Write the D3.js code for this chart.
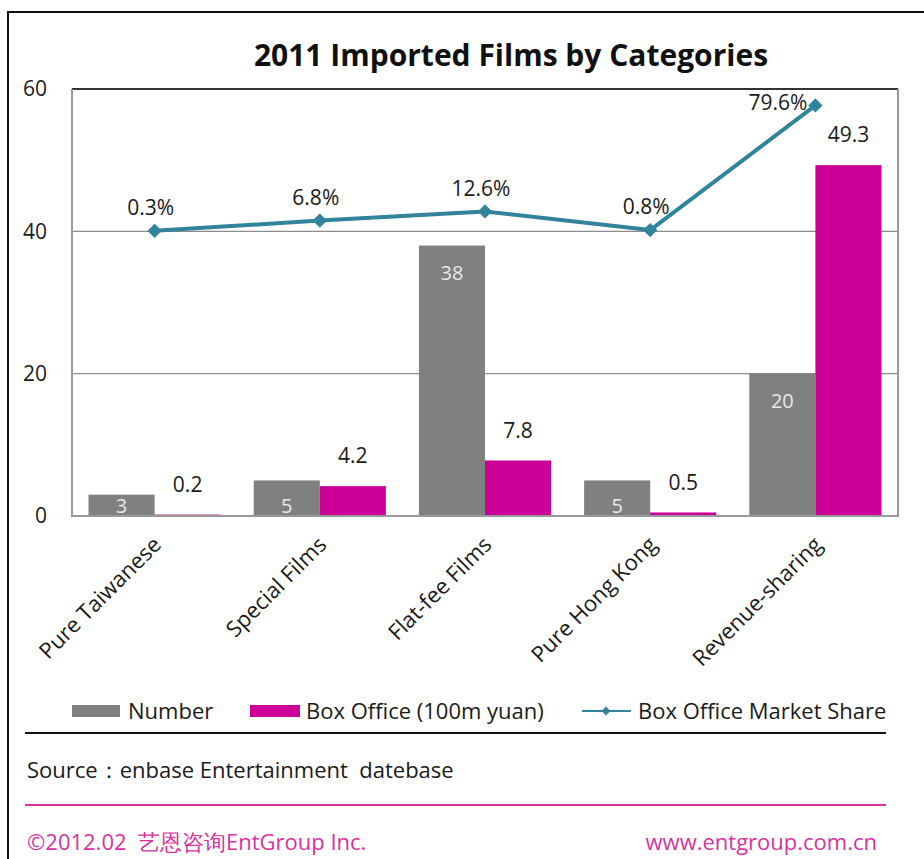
<!DOCTYPE html>
<html>
<head>
<meta charset="utf-8">
<script src="https://cdn.jsdelivr.net/npm/d3@7"></script>
<style>
  html, body { margin: 0; padding: 0; background: #fff; }
  svg { display: block; }
  text { font-family: "Open Sans", "Noto Sans", sans-serif; fill: #1a1a1a; }
</style>
</head>
<body>
<svg id="chart" width="924" height="859"></svg>
<script>
// Imported films in 2011, grouped by category
const categories = ["Pure Taiwanese", "Special Films", "Flat-fee Films", "Pure Hong Kong", "Revenue-sharing"];
const filmCount = [3, 5, 38, 5, 20];                 // number of films
const boxOffice = [0.2, 4.2, 7.8, 0.5, 49.3];        // 100m yuan
const marketShare = [0.3, 6.8, 12.6, 0.8, 79.6];     // % of imported box office
const yTicks = [0, 20, 40, 60];
const seriesNames = ["Number", "Box Office (100m yuan)", "Box Office Market Share"];

const colors = { count: "#808080", box: "#cc0099", share: "#31849b", pink: "#d6339f" };
const FS = 21;

const svg = d3.select("#chart");
const W = 924, H = 859;
const plot = { left: 72, right: 898, top: 89, bottom: 516 };

// outer frame
svg.append("rect").attr("x", 8).attr("y", 12).attr("width", W).attr("height", H)
  .attr("fill", "none").attr("stroke", "#111").attr("stroke-width", 2);

// title
svg.append("text").attr("x", 511).attr("y", 66).attr("text-anchor", "middle")
  .attr("font-size", 30).attr("font-weight", "bold").style("fill", "#111")
  .text("2011 Imported Films by Categories");

const y = d3.scaleLinear().domain([0, 60]).range([plot.bottom, plot.top]);
const y2 = d3.scaleLinear().domain([-180, 90]).range([plot.bottom, plot.top]);
const x = d3.scaleBand().domain(categories).range([plot.left, plot.right]);
const xs = d3.scaleBand().domain(["count", "box"]).range([0, x.bandwidth()]).paddingOuter(0.25);

// horizontal gridlines
svg.append("g").selectAll("line").data(yTicks.filter(t => t > 0)).join("line")
  .attr("x1", plot.left).attr("x2", plot.right)
  .attr("y1", d => y(d)).attr("y2", d => y(d))
  .attr("stroke", d => d === 60 ? "#333" : "#8c8c8c")
  .attr("stroke-width", d => d === 60 ? 2 : 1.3);

// y axis labels
const yAxis = d3.axisLeft(y).tickValues(yTicks).tickSize(0).tickPadding(0);
const gy = svg.append("g").attr("transform", `translate(${plot.left - 25},0)`).call(yAxis);
gy.select(".domain").remove();
gy.selectAll("text").attr("font-size", FS).attr("font-family", "'Open Sans', sans-serif").style("fill", "#1a1a1a");

// bars
const groups = svg.append("g").selectAll("g").data(categories).join("g")
  .attr("transform", d => `translate(${x(d)},0)`);

groups.append("rect")
  .attr("x", xs("count")).attr("width", xs.bandwidth())
  .attr("y", (d, i) => y(filmCount[i])).attr("height", (d, i) => y(0) - y(filmCount[i]))
  .attr("fill", colors.count);

groups.append("rect")
  .attr("x", xs("box")).attr("width", xs.bandwidth())
  .attr("y", (d, i) => y(boxOffice[i])).attr("height", (d, i) => y(0) - y(boxOffice[i]))
  .attr("fill", colors.box);

// count labels inside the grey bars
groups.append("text")
  .attr("x", xs("count") + xs.bandwidth() / 2)
  .attr("y", (d, i) => Math.min(y(filmCount[i]) + 27, y(0) - 10))
  .attr("dy", "0.35em").attr("text-anchor", "middle")
  .attr("font-size", FS - 1).style("fill", "#e8e8e8")
  .text((d, i) => filmCount[i]);

// box office labels above the magenta bars
groups.append("text")
  .attr("x", xs("box") + xs.bandwidth() / 2)
  .attr("y", (d, i) => y(boxOffice[i]) - 30)
  .attr("dy", "0.35em").attr("text-anchor", "middle")
  .attr("font-size", FS)
  .text((d, i) => boxOffice[i]);

// plot frame (left, right, bottom)
svg.append("path")
  .attr("d", `M${plot.left},${plot.top} V${plot.bottom} H${plot.right} V${plot.top}`)
  .attr("fill", "none").attr("stroke", "#999").attr("stroke-width", 2);

// market share line on the secondary scale
const cx = c => x(c) + x.bandwidth() / 2;
const linePts = categories.map((c, i) => [cx(c), y2(marketShare[i])]);
svg.append("path").attr("d", d3.line()(linePts))
  .attr("fill", "none").attr("stroke", colors.share).attr("stroke-width", 4)
  .attr("stroke-linejoin", "round");

const diamond = d3.symbol().type(d3.symbolDiamond2).size(130);
svg.append("g").selectAll("path").data(linePts).join("path")
  .attr("transform", d => `translate(${d[0]},${d[1]})`)
  .attr("d", diamond).attr("fill", colors.share);

// share labels sit above each point; near the top frame they move to the left of it
svg.append("g").selectAll("text").data(categories).join("text")
  .each(function (c, i) {
    const px = cx(c), py = y2(marketShare[i]);
    const crowded = py - 23 < plot.top + 14;
    d3.select(this)
      .attr("x", crowded ? px - 8 : px - 4)
      .attr("y", crowded ? py - 3 : py - 23)
      .attr("text-anchor", crowded ? "end" : "middle");
  })
  .attr("dy", "0.35em").attr("font-size", FS)
  .text((c, i) => marketShare[i] + "%");

// rotated category labels
svg.append("g").selectAll("text").data(categories).join("text")
  .attr("transform", c => `translate(${cx(c) + 8},${plot.bottom + 30}) rotate(-45)`)
  .attr("text-anchor", "end").attr("font-size", FS + 1)
  .text(c => c);

// legend
const legY = 711, LFS = 22;
const leg = svg.append("g");
leg.append("rect").attr("x", 72).attr("y", legY - 6).attr("width", 48).attr("height", 12).attr("fill", colors.count);
leg.append("text").attr("x", 128).attr("y", legY).attr("dy", "0.35em").attr("font-size", LFS).text(seriesNames[0]);
leg.append("rect").attr("x", 250).attr("y", legY - 6).attr("width", 50).attr("height", 12).attr("fill", colors.box);
leg.append("text").attr("x", 306).attr("y", legY).attr("dy", "0.35em").attr("font-size", LFS).text(seriesNames[1]);
leg.append("line").attr("x1", 582).attr("x2", 631).attr("y1", legY).attr("y2", legY)
  .attr("stroke", colors.share).attr("stroke-width", 2);
leg.append("path").attr("transform", `translate(606,${legY})`)
  .attr("d", d3.symbol().type(d3.symbolDiamond2).size(50)).attr("fill", colors.share);
leg.append("text").attr("x", 638).attr("y", legY).attr("dy", "0.35em").attr("font-size", LFS).text(seriesNames[2]);

// separators and footer
svg.append("line").attr("x1", 25).attr("x2", 886).attr("y1", 733).attr("y2", 733)
  .attr("stroke", "#111").attr("stroke-width", 2);
svg.append("text").attr("x", 27).attr("y", 770).attr("dy", "0.35em").attr("font-size", 22)
  .attr("xml:space", "preserve").text("Source：enbase Entertainment  datebase");
svg.append("line").attr("x1", 25).attr("x2", 886).attr("y1", 805).attr("y2", 805)
  .attr("stroke", colors.pink).attr("stroke-width", 2);
svg.append("text").attr("x", 27).attr("y", 842).attr("dy", "0.35em").attr("font-size", 22)
  .style("fill", colors.pink).attr("xml:space", "preserve")
  .text("©2012.02  艺恩咨询EntGroup Inc.");
svg.append("text").attr("x", 877).attr("y", 842).attr("dy", "0.35em").attr("font-size", 22)
  .attr("text-anchor", "end").style("fill", colors.pink)
  .text("www.entgroup.com.cn");
</script>
</body>
</html>
